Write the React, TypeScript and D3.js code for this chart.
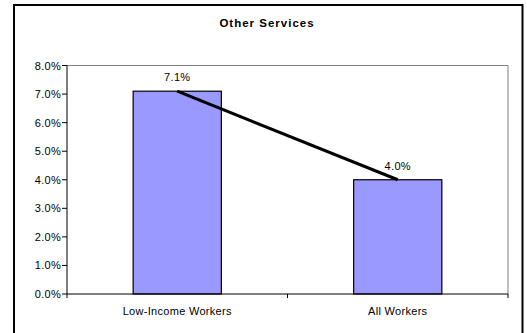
import React from "react";
import * as d3 from "d3";

const categories = ["Low-Income Workers", "All Workers"];
const values = [0.071, 0.04];
const valueLabels = ["7.1%", "4.0%"];
const yTicks = [0, 0.01, 0.02, 0.03, 0.04, 0.05, 0.06, 0.07, 0.08];
const title = "Other Services";

export default function App() {
  const W = 527, H = 333;
  const plot = { left: 67, right: 508, top: 65.5, bottom: 294 };
  const y = d3.scaleLinear().domain([0, 0.08]).range([plot.bottom, plot.top]);
  const x = d3.scalePoint<string>().domain(categories).range([plot.left, plot.right]).padding(0.5);
  const step = x.step();
  const bw = step * 0.4;
  const fmt = d3.format(".1%");
  const font = "Arial, 'Liberation Sans', sans-serif";
  const lineGen = d3.line<number>()
    .x((_, i) => x(categories[i])!)
    .y((d) => y(d));
  const boundaries = [0, 1, 2].map((i) => plot.left + i * step);

  return (
    <svg width={W} height={H} style={{ position: "absolute", left: 0, top: 0 }}>
      <rect x={0} y={0} width={W} height={H} fill="#fff" />
      <rect x={14} y={5} width={508.5} height={340} fill="none" stroke="#000" strokeWidth={2} />
      <text x={267} y={27} textAnchor="middle" fontFamily={font} fontSize={11.5} fontWeight="bold" letterSpacing={1}>
        {title}
      </text>
      {/* plot area frame */}
      <line x1={plot.left} x2={plot.right} y1={plot.top} y2={plot.top} stroke="#808080" strokeWidth={1} />
      <line x1={plot.right} x2={plot.right} y1={plot.top} y2={plot.bottom} stroke="#808080" strokeWidth={1} />
      {/* bars */}
      {categories.map((c, i) => (
        <rect
          key={c}
          x={x(c)! - bw / 2}
          y={y(values[i])}
          width={bw}
          height={plot.bottom - y(values[i])}
          fill="#9999FF"
          stroke="#000"
          strokeWidth={1.2}
        />
      ))}
      {/* axes */}
      <line x1={plot.left} x2={plot.left} y1={plot.top} y2={plot.bottom} stroke="#000" strokeWidth={1} />
      <line x1={plot.left} x2={plot.right} y1={plot.bottom} y2={plot.bottom} stroke="#000" strokeWidth={1} />
      {yTicks.map((t) => (
        <g key={t}>
          <line x1={plot.left - 5} x2={plot.left} y1={y(t)} y2={y(t)} stroke="#000" />
          <text x={plot.left - 6} y={y(t) + 4} textAnchor="end" fontFamily={font} fontSize={11} letterSpacing={0.3}>
            {fmt(t)}
          </text>
        </g>
      ))}
      {boundaries.map((b, i) => (
        <line key={i} x1={b} x2={b} y1={plot.bottom} y2={plot.bottom + 4} stroke="#000" />
      ))}
      {categories.map((c) => (
        <text key={c} x={x(c)!} y={315} textAnchor="middle" fontFamily={font} fontSize={11} letterSpacing={0.3}>
          {c}
        </text>
      ))}
      {/* line */}
      <path d={lineGen(values)!} fill="none" stroke="#000" strokeWidth={3} />
      {categories.map((c, i) => (
        <text key={c} x={x(c)!} y={y(values[i]) - 10} textAnchor="middle" fontFamily={font} fontSize={11} letterSpacing={0.3}>
          {valueLabels[i]}
        </text>
      ))}
    </svg>
  );
}
